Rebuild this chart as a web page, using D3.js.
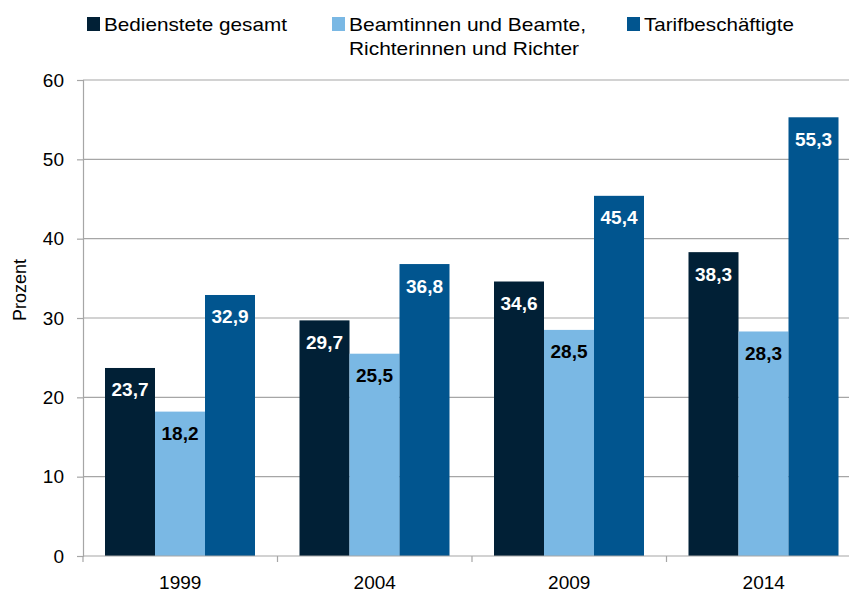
<!DOCTYPE html>
<html>
<head>
<meta charset="utf-8">
<script src="https://cdn.jsdelivr.net/npm/d3@7"></script>
<style>
  body { margin: 0; background: #fff; }
  text { font-family: "Liberation Sans", Arial, sans-serif; }
</style>
</head>
<body>
<div id="chart"></div>
<script>
// data
var years = ["1999", "2004", "2009", "2014"];
var seriesNames = ["Bedienstete gesamt", "Beamtinnen und Beamte", "Tarifbeschäftigte"];
var gesamt = [23.7, 29.7, 34.6, 38.3];
var beamte = [18.2, 25.5, 28.5, 28.3];
var tarif = [32.9, 36.8, 45.4, 55.3];
var yTicks = [0, 10, 20, 30, 40, 50, 60];

var colors = ["#012036", "#7ab8e4", "#01558f"];
var labelColors = ["#fff", "#000", "#fff"];

var width = 849, height = 592;
var margin = {top: 80, left: 83, bottom: 36};
var plotBottom = height - margin.bottom;

var svg = d3.select("#chart").append("svg")
    .attr("width", width)
    .attr("height", height);

var x = d3.scaleBand()
    .domain(years)
    .range([margin.left, margin.left + 4 * 194.5])
    .padding(0);

var xSub = d3.scaleBand()
    .domain(seriesNames)
    .range([22, x.bandwidth() - 22.5])
    .padding(0);

var y = d3.scaleLinear()
    .domain([0, 60])
    .range([plotBottom, margin.top]);

// gridlines
svg.append("g")
  .selectAll("line")
  .data(yTicks.slice(1))
  .enter().append("line")
    .attr("x1", margin.left)
    .attr("x2", width)
    .attr("y1", function(d) { return y(d); })
    .attr("y2", function(d) { return y(d); })
    .attr("stroke", "#a6a6a6")
    .attr("stroke-width", 1.2);

// y axis
var yAxis = svg.append("g")
    .attr("transform", "translate(" + margin.left + ",0)")
    .call(d3.axisLeft(y).tickValues(yTicks).tickSize(6).tickPadding(13));
yAxis.select(".domain").attr("stroke", "#a6a6a6").attr("stroke-width", 1.2);
yAxis.selectAll(".tick line").attr("stroke", "#a6a6a6").attr("stroke-width", 1.2);
yAxis.selectAll("text").style("font-size", "19px").attr("fill", "#000");

svg.append("text")
    .attr("transform", "translate(26,290) rotate(-90)")
    .attr("text-anchor", "middle")
    .style("font-size", "18px")
    .text("Prozent");

// bars
var rows = years.map(function(yr, i) {
  return {year: yr, values: [gesamt[i], beamte[i], tarif[i]]};
});

var groups = svg.selectAll("g.layer")
  .data(rows)
  .enter().append("g")
    .attr("class", "layer")
    .attr("transform", function(d) { return "translate(" + x(d.year) + ",0)"; });

groups.selectAll("rect")
  .data(function(d) {
    return d.values.map(function(v, k) { return {key: seriesNames[k], k: k, value: v}; });
  })
  .enter().append("rect")
    .attr("x", function(d) { return xSub(d.key); })
    .attr("width", xSub.bandwidth())
    .attr("y", function(d) { return y(d.value); })
    .attr("height", function(d) { return plotBottom - y(d.value); })
    .attr("fill", function(d) { return colors[d.k]; });

groups.selectAll("text.val")
  .data(function(d) {
    return d.values.map(function(v, k) { return {key: seriesNames[k], k: k, value: v}; });
  })
  .enter().append("text")
    .attr("class", "val")
    .attr("x", function(d) { return xSub(d.key) + xSub.bandwidth() / 2; })
    .attr("y", function(d) { return y(d.value) + 28.5; })
    .attr("text-anchor", "middle")
    .style("font-size", "19px")
    .style("font-weight", "bold")
    .attr("fill", function(d) { return labelColors[d.k]; })
    .text(function(d) { return d.value.toFixed(1).replace(".", ","); });

// x axis
var xAxis = svg.append("g")
    .attr("transform", "translate(0," + plotBottom + ")");
xAxis.append("line")
    .attr("x1", margin.left).attr("x2", width)
    .attr("stroke", "#a6a6a6").attr("stroke-width", 1.2);
xAxis.selectAll("line.tk")
  .data(years)
  .enter().append("line")
    .attr("class", "tk")
    .attr("x1", function(d) { return x(d); })
    .attr("x2", function(d) { return x(d); })
    .attr("y1", 0).attr("y2", 6)
    .attr("stroke", "#a6a6a6").attr("stroke-width", 1.2);
xAxis.selectAll("text")
  .data(years)
  .enter().append("text")
    .attr("x", function(d) { return x(d) + x.bandwidth() / 2; })
    .attr("y", 33)
    .attr("text-anchor", "middle")
    .style("font-size", "19px")
    .text(function(d) { return d; });

// legend
var legend = [
  {x: 87, lines: ["Bedienstete gesamt"], widths: [183]},
  {x: 332, lines: ["Beamtinnen und Beamte,", "Richterinnen und Richter"], widths: [237, 230]},
  {x: 627, lines: ["Tarifbeschäftigte"], widths: [150]}
];
legend.forEach(function(l, i) {
  svg.append("rect")
      .attr("x", l.x).attr("y", 17)
      .attr("width", 13).attr("height", 14)
      .attr("fill", colors[i]);
  l.lines.forEach(function(t, j) {
    svg.append("text")
        .attr("x", l.x + 17)
        .attr("y", 31 + j * 23.5)
        .attr("textLength", l.widths[j])
        .attr("lengthAdjust", "spacingAndGlyphs")
        .style("font-size", "19px")
        .text(t);
  });
});
</script>
</body>
</html>
